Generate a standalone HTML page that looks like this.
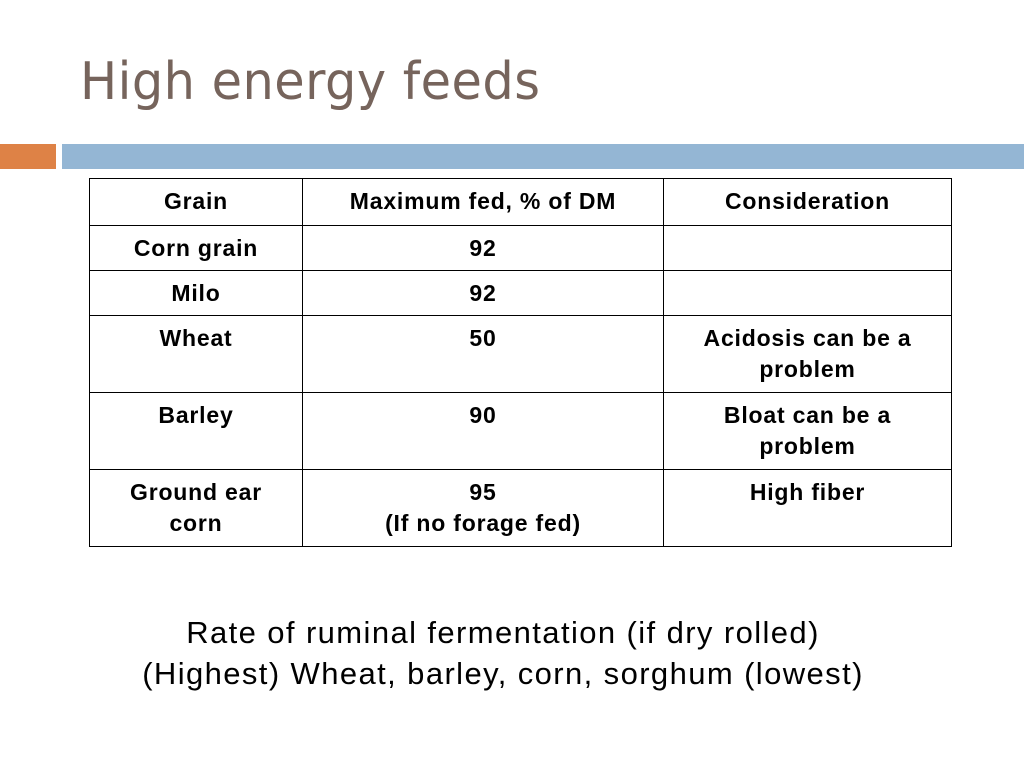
<!DOCTYPE html>
<html><head><meta charset="utf-8"><style>
body{margin:0;width:1024px;height:768px;background:#fff;position:relative;overflow:hidden;font-family:"Liberation Sans",Arial,sans-serif}
.t{position:absolute;left:80px;top:52px;font-size:52px;color:#76645c;letter-spacing:0.5px;font-family:"DejaVu Sans","Liberation Sans",sans-serif;font-weight:normal;transform:scaleX(0.95);transform-origin:left}
table{position:absolute;left:89px;top:178px;border-collapse:collapse;width:863px}
td{border:1.5px solid #000;font-weight:bold;font-size:23px;letter-spacing:0.8px;text-align:center;vertical-align:top;padding:7px 4px 0;line-height:31px;box-sizing:border-box}
.n{position:absolute;left:0;width:1006px;text-align:center;font-size:31px;letter-spacing:1.4px;color:#000;line-height:41px;top:612px}
</style></head><body>
<div class="t">High energy feeds</div>
<div style="position:absolute;left:0;top:144px;width:56px;height:25px;background:#de8246"></div>
<div style="position:absolute;left:62px;top:144px;width:962px;height:25px;background:#94b6d4"></div>
<table>
<tr style="height:47px"><td style="width:213px">Grain</td><td style="width:361px">Maximum fed, % of DM</td><td>Consideration</td></tr>
<tr style="height:45px"><td>Corn grain</td><td>92</td><td></td></tr>
<tr style="height:45px"><td>Milo</td><td>92</td><td></td></tr>
<tr style="height:77px"><td>Wheat</td><td>50</td><td>Acidosis can be a<br>problem</td></tr>
<tr style="height:77px"><td>Barley</td><td>90</td><td>Bloat can be a<br>problem</td></tr>
<tr style="height:77px"><td>Ground ear<br>corn</td><td>95<br>(If no forage fed)</td><td>High fiber</td></tr>
</table>
<div class="n">Rate of ruminal fermentation (if dry rolled)<br>(Highest) Wheat, barley, corn, sorghum (lowest)</div>
</body></html>
